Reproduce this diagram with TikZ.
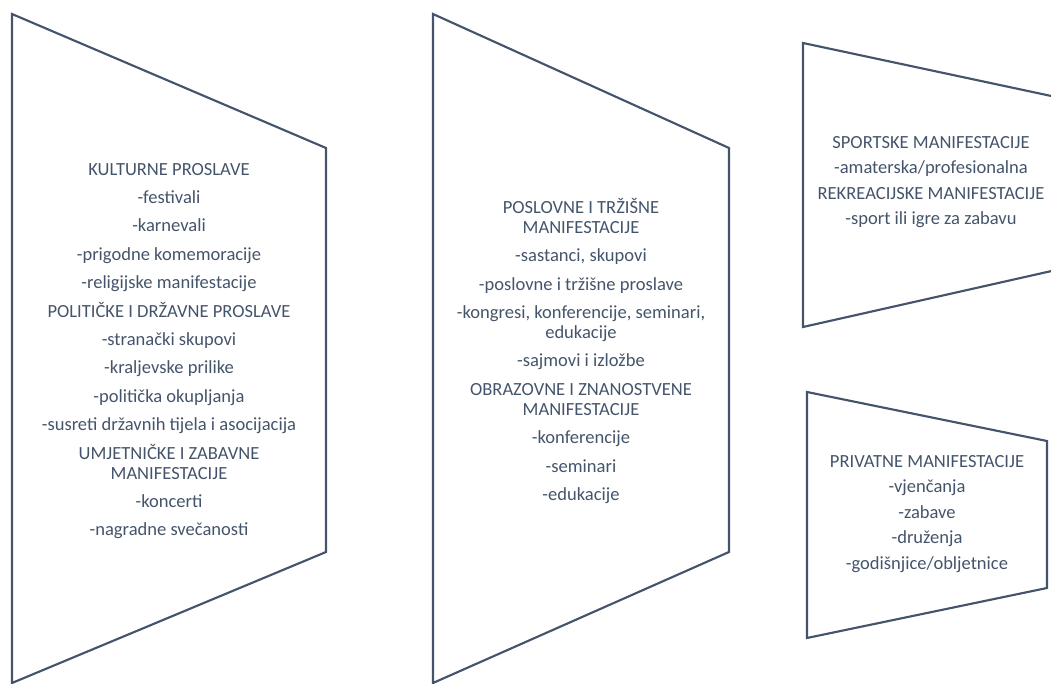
\documentclass[tikz,border=0pt]{standalone}
\usepackage{fontspec}
\setmainfont{Carlito}
\definecolor{slate}{HTML}{44546A}
\begin{document}
\begin{tikzpicture}[x=0.75pt,y=-0.75pt,
  shapeline/.style={draw=slate,line width=1.6pt,line join=miter},
  txt/.style={text=slate,align=center,inner sep=0pt,font=\fontsize{13.9}{15}\selectfont}]
\useasboundingbox (0,0) rectangle (1051,684);
\clip (0,0) rectangle (1051,684);
% shapes
\draw[shapeline] (12,14) -- (326,148) -- (326,552) -- (12,683) -- cycle;
\draw[shapeline] (433,14) -- (729,148) -- (729,552) -- (433,683) -- cycle;
\draw[shapeline] (803,43) -- (1056,97) -- (1056,270) -- (803,327) -- cycle;
\draw[shapeline] (807,392) -- (1047,441) -- (1047,588) -- (807,638) -- cycle;
% texts
\node[txt] (t1) at (169,351) {KULTURNE PROSLAVE\\[6.3pt]
-festivali\\[6.3pt]
-karnevali\\[6.3pt]
-prigodne komemoracije\\[6.3pt]
-religijske manifestacije\\[6.3pt]
POLITIČKE I DRŽAVNE PROSLAVE\\[6.3pt]
-stranački skupovi\\[6.3pt]
-kraljevske prilike\\[6.3pt]
-politička okupljanja\\[6.3pt]
-susreti državnih tijela i asocijacija\\[6.3pt]
UMJETNIČKE I ZABAVNE\\
MANIFESTACIJE\\[6.3pt]
-koncerti\\[6.3pt]
-nagradne svečanosti};
\node[txt] (t2) at (581,351) {POSLOVNE I TRŽIŠNE\\
MANIFESTACIJE\\[6.3pt]
-sastanci, skupovi\\[6.3pt]
-poslovne i tržišne proslave\\[6.3pt]
-kongresi, konferencije, seminari,\\
edukacije\\[6.3pt]
-sajmovi i izložbe\\[6.3pt]
OBRAZOVNE I ZNANOSTVENE\\
MANIFESTACIJE\\[6.3pt]
-konferencije\\[6.3pt]
-seminari\\[6.3pt]
-edukacije};
\node[txt] (t3) at (931,182) {SPORTSKE MANIFESTACIJE\\[4.1pt]
-amaterska/profesionalna\\[4.1pt]
REKREACIJSKE MANIFESTACIJE\\[4.1pt]
-sport ili igre za zabavu};
\node[txt] (t4) at (927,514) {PRIVATNE MANIFESTACIJE\\[4.1pt]
-vjenčanja\\[4.1pt]
-zabave\\[4.1pt]
-druženja\\[4.1pt]
-godišnjice/obljetnice};
\end{tikzpicture}
\end{document}
